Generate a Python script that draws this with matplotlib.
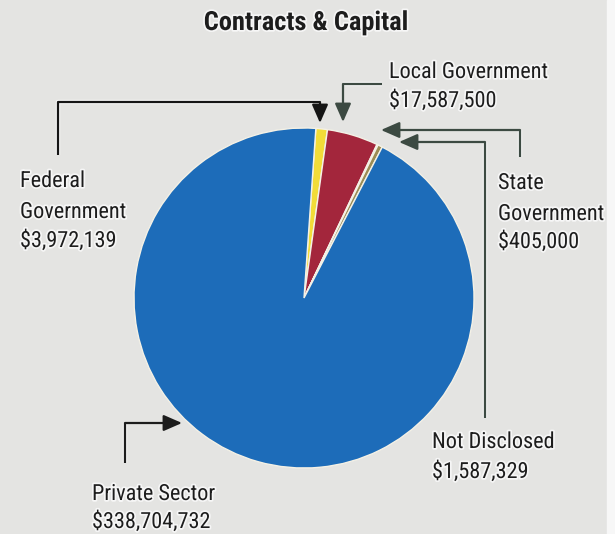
import matplotlib
matplotlib.use("Agg")
import matplotlib.pyplot as plt
import matplotlib.patheffects as pe

# ---- data ----
categories = ["Federal Government", "Local Government", "State Government",
              "Not Disclosed", "Private Sector"]
values = [3972139, 17587500, 405000, 1587329, 338704732]
value_labels = ["$3,972,139", "$17,587,500", "$405,000", "$1,587,329", "$338,704,732"]
title = "Contracts & Capital"

W, H = 615, 534
fig = plt.figure(figsize=(W / 100, H / 100), dpi=100)
fig.patch.set_facecolor("#e4e4e2")
ax = fig.add_axes([0, 0, 1, 1])
ax.set_facecolor("#e4e4e2")

def Y(y):
    return H - y

slice_colors = ["#f2dc38", "#a3263c", "#c8505e", "#9c8c54", "#1d6cb9"]
ax.pie(values, startangle=86, counterclock=False, colors=slice_colors,
       center=(304, Y(298)), radius=170,
       wedgeprops=dict(edgecolor="#f4f1e6", linewidth=1.0))
ax.set_aspect("auto")
ax.set_xlim(0, W)
ax.set_ylim(0, H)
ax.axis("off")

# white strip on the right edge of the scan
ax.add_patch(plt.Rectangle((607, 0), 8, H, color="#f7f7f7", zorder=0))

FONT = ["Roboto Condensed", "DejaVu Sans"]
halo = [pe.withStroke(linewidth=2.5, foreground="#f6f6f6")]
TXT = "#1d1d1d"

ax.text(306, Y(30), title, family=FONT, fontweight="bold", fontsize=19,
        color=TXT, ha="center", va="baseline", path_effects=halo)

def label(x, baselines, lines):
    for b, s in zip(baselines, lines):
        ax.text(x, Y(b), s, family=FONT, fontsize=16, color=TXT,
                ha="left", va="baseline", path_effects=halo)

label(20, [187, 218, 247], ["Federal", "Government", value_labels[0]])
label(389, [78, 107], ["Local Government", value_labels[1]])
label(498, [189, 220, 248], ["State", "Government", value_labels[2]])
label(432, [448, 478], ["Not Disclosed", value_labels[3]])
label(92, [500, 528], ["Private Sector", value_labels[4]])

def connector(points, color):
    xs = [p[0] for p in points[:-1]]
    ys = [Y(p[1]) for p in points[:-1]]
    ax.plot(xs, ys, color=color, lw=1.6, solid_capstyle="butt",
            path_effects=[pe.withStroke(linewidth=3.2, foreground="#f6f6f6")])
    ax.annotate("", xy=(points[-1][0], Y(points[-1][1])),
                xytext=(points[-2][0], Y(points[-2][1])),
                arrowprops=dict(arrowstyle="-|>,head_length=0.8,head_width=0.35",
                                color=color, lw=1.6, shrinkA=0, shrinkB=0,
                                mutation_scale=14))

connector([(58, 155), (58, 102), (320, 102), (320, 123)], "#151515")
connector([(382, 84), (343, 84), (343, 122)], "#3c4a42")
connector([(520, 157), (520, 130), (381, 130)], "#3c4a42")
connector([(485, 418), (485, 142), (399, 142)], "#3c4a42")
connector([(125, 463), (125, 423), (182, 423)], "#1c1c1c")

fig.savefig("out.png", dpi=100, facecolor=fig.get_facecolor())
